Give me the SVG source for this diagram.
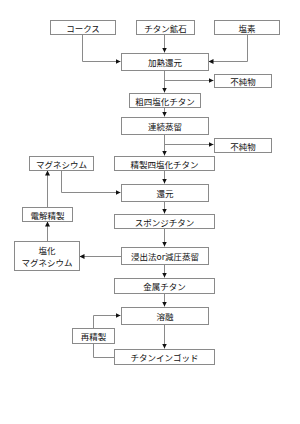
<svg xmlns="http://www.w3.org/2000/svg" width="300" height="424" viewBox="0 0 300 424">
<style>
.b{fill:#fff;stroke:#8a8a8a;stroke-width:1}
.t{font-family:"Noto Sans CJK JP","Noto Sans",sans-serif;font-size:8.5px;fill:#111;text-anchor:middle;dominant-baseline:central}
.c{fill:none;stroke:#8a8a8a;stroke-width:1;marker-end:url(#a)}
</style>
<defs>
<marker id="a" viewBox="0 0 6 6" refX="6" refY="3" markerWidth="5" markerHeight="5" orient="auto" markerUnits="userSpaceOnUse">
<path d="M0,0L6,3L0,6z" fill="#111"/>
</marker>
</defs>
<rect width="300" height="424" fill="#fff"/>
<g id="connectors">
<path class="c" d="M82.5,34V61.5H120.5"/>
<path class="c" d="M164.5,34V52.5"/>
<path class="c" d="M247.5,34V61.5H208.5"/>
<path class="c" d="M164.5,70V92.5"/>
<path class="c" d="M164.5,80.5H213.5"/>
<path class="c" d="M164.5,107V116.5"/>
<path class="c" d="M164.5,134V155.5"/>
<path class="c" d="M164.5,144.5H213.5"/>
<path class="c" d="M164.5,170V183.5"/>
<path class="c" d="M61.5,170V192.5H120.5"/>
<path class="c" d="M164.5,201V213.5"/>
<path class="c" d="M164.5,228V246.5"/>
<path class="c" d="M121,256.5H79.5"/>
<path class="c" d="M47.5,241V221.5"/>
<path class="c" d="M47.5,207V170.5"/>
<path class="c" d="M164.5,264V277.5"/>
<path class="c" d="M164.5,293V306.5"/>
<path class="c" d="M164.5,324V348.5"/>
<path class="c" d="M114,357.5H93.5V315.5H120.5"/>
</g>
<g id="n1"><rect class="b" x="50.5" y="20.5" width="65" height="14"/><text class="t" x="83" y="27.5">コークス</text></g>
<g id="n2"><rect class="b" x="136.5" y="20.5" width="58" height="14"/><text class="t" x="165.5" y="27.5">チタン鉱石</text></g>
<g id="n3"><rect class="b" x="214.5" y="20.5" width="65" height="14"/><text class="t" x="247" y="27.5">塩素</text></g>
<g id="n4"><rect class="b" x="121.5" y="53.5" width="87" height="17"/><text class="t" x="165" y="62">加熱還元</text></g>
<g id="n5"><rect class="b" x="214.5" y="74.5" width="57" height="13"/><text class="t" x="243" y="81">不純物</text></g>
<g id="n6"><rect class="b" x="129.5" y="93.5" width="71" height="14"/><text class="t" x="165" y="100.5">粗四塩化チタン</text></g>
<g id="n7"><rect class="b" x="121.5" y="117.5" width="87" height="17"/><text class="t" x="165" y="126">連続蒸留</text></g>
<g id="n8"><rect class="b" x="214.5" y="138.5" width="57" height="14"/><text class="t" x="243" y="145.5">不純物</text></g>
<g id="n9"><rect class="b" x="114.5" y="156.5" width="100" height="14"/><text class="t" x="164.5" y="163.5">精製四塩化チタン</text></g>
<g id="n10"><rect class="b" x="29.5" y="156.5" width="64" height="14"/><text class="t" x="61.5" y="163.5">マグネシウム</text></g>
<g id="n11"><rect class="b" x="121.5" y="184.5" width="87" height="17"/><text class="t" x="165" y="193">還元</text></g>
<g id="n12"><rect class="b" x="22.5" y="207.5" width="50" height="14"/><text class="t" x="47.5" y="214.5">電解精製</text></g>
<g id="n13"><rect class="b" x="114.5" y="214.5" width="100" height="14"/><text class="t" x="164.5" y="221.5">スポンジチタン</text></g>
<g id="n14"><rect class="b" x="14.5" y="241.5" width="65" height="29"/><text class="t" x="47" y="250">塩化</text><text class="t" x="47" y="261.5">マグネシウム</text></g>
<g id="n15"><rect class="b" x="121.5" y="247.5" width="87" height="17"/><text class="t" x="165" y="256">浸出法or減圧蒸留</text></g>
<g id="n16"><rect class="b" x="114.5" y="278.5" width="100" height="15"/><text class="t" x="164.5" y="286">金属チタン</text></g>
<g id="n17"><rect class="b" x="121.5" y="307.5" width="87" height="17"/><text class="t" x="165" y="316">溶融</text></g>
<g id="n18"><rect class="b" x="72.5" y="328.5" width="42" height="15"/><text class="t" x="93.5" y="336">再精製</text></g>
<g id="n19"><rect class="b" x="114.5" y="349.5" width="100" height="15"/><text class="t" x="164.5" y="357">チタンインゴッド</text></g>
</svg>
